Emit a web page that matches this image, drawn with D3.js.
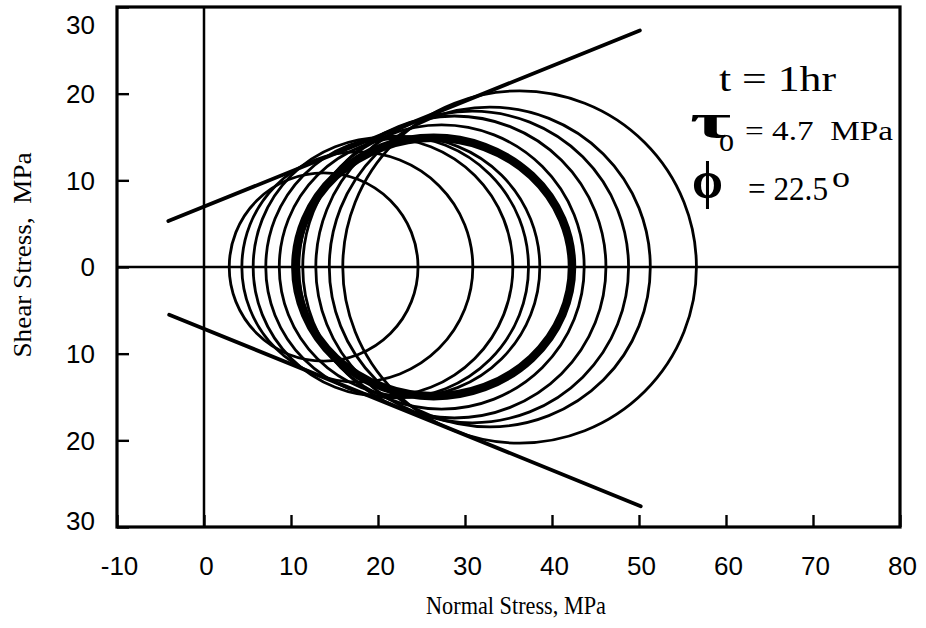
<!DOCTYPE html>
<html>
<head>
<meta charset="utf-8">
<script src="https://cdn.jsdelivr.net/npm/d3@7"></script>
<style>
  html, body { margin: 0; padding: 0; background: #fff; }
  svg { display: block; }
</style>
</head>
<body>
<svg id="chart" width="926" height="628"></svg>
<script>
// ---- data ----
// Mohr circles: minor (sigma3) and major (sigma1) principal stresses, MPa
const sigma3 = [2.9, 4.35, 5.65, 7.1, 8.65, 10.9, 11.35, 12.85, 14.4, 15.95];
const sigma1 = [24.6, 30.9, 35.5, 37.3, 38.6, 43.7, 46.2, 48.8, 51.3, 56.6];
// highlighted (heavy) curve: sigma3, sigma1, peak shear
const heavySigma3 = [10.5];
const heavySigma1 = [42.3];
const heavyTau = [14.9];
// failure envelope end points [normal, shear]
const envelopeUpper = [[-4.1, 5.3], [50.1, 27.3]];
const envelopeLower = [[-4.0, -5.5], [50.2, -27.6]];
// axis ticks
const xTicks = [-10, 0, 10, 20, 30, 40, 50, 60, 70, 80];
const yTicks = [30, 20, 10, 0, -10, -20, -30];
// annotation texts
const labelTime = "t = 1hr";
const labelTau = "τ";
const labelTauSub = "o";
const labelTauVal = "= 4.7  MPa";
const labelPhi = "ϕ";
const labelPhiVal = "= 22.5";
const labelPhiSup = "o";
const xTitle = "Normal Stress, MPa";
const yTitle = "Shear Stress,  MPa";

// ---- scales ----
const svg = d3.select("#chart");
const x = d3.scaleLinear().domain([-10, 80]).range([117, 900]);
const y = d3.scaleLinear().domain([-30, 30]).range([527, 7]);

const sansFont = "'Liberation Sans', Arial, Helvetica, sans-serif";
const serifFont = "'Liberation Serif', 'Times New Roman', Times, serif";

// ---- axes ----
const xAxis = d3.axisBottom(x).tickValues(xTicks).tickSize(-12).tickPadding(30)
  .tickFormat(d => String(d));
const gx = svg.append("g").attr("transform", `translate(0,${y(-30)})`).call(xAxis);
gx.select(".domain").remove();
gx.selectAll(".tick line").attr("stroke", "#000").attr("stroke-width", 2.4);
gx.selectAll(".tick text").attr("fill", "#000").attr("font-family", sansFont)
  .attr("font-size", 26).attr("dx", 2);

const yAxis = d3.axisLeft(y).tickValues(yTicks).tickSize(-12).tickPadding(22)
  .tickFormat(d => String(Math.abs(d)));
const gy = svg.append("g").attr("transform", `translate(${x(-10)},0)`).call(yAxis);
gy.select(".domain").remove();
gy.selectAll(".tick line").attr("stroke", "#000").attr("stroke-width", 2.4);
gy.selectAll(".tick text").attr("fill", "#000").attr("font-family", sansFont)
  .attr("font-size", 26)
  .attr("dy", d => d === 30 ? "1.02em" : (d === -30 ? "0.1em" : "0.34em"));

// ---- frame and zero lines ----
svg.append("rect")
  .attr("x", x(-10)).attr("y", y(30))
  .attr("width", x(80) - x(-10)).attr("height", y(-30) - y(30))
  .attr("fill", "none").attr("stroke", "#000").attr("stroke-width", 3.2);
svg.append("line")
  .attr("x1", x(0)).attr("x2", x(0)).attr("y1", y(30)).attr("y2", y(-30))
  .attr("stroke", "#000").attr("stroke-width", 2.5);
svg.append("line")
  .attr("x1", x(-10)).attr("x2", x(80)).attr("y1", y(0)).attr("y2", y(0))
  .attr("stroke", "#000").attr("stroke-width", 2.5);

// ---- Mohr circles ----
const circles = sigma3.map((s3, i) => ({ s3, s1: sigma1[i] }));
svg.append("g").selectAll("ellipse").data(circles).join("ellipse")
  .attr("cx", d => x((d.s3 + d.s1) / 2))
  .attr("cy", y(0))
  .attr("rx", d => x(d.s1) - x((d.s3 + d.s1) / 2))
  .attr("ry", d => y(0) - y((d.s1 - d.s3) / 2))
  .attr("fill", "none").attr("stroke", "#000").attr("stroke-width", 2.8);

const heavy = heavySigma3.map((s3, i) => ({ s3, s1: heavySigma1[i], t: heavyTau[i] }));
svg.append("g").selectAll("ellipse").data(heavy).join("ellipse")
  .attr("cx", d => x((d.s3 + d.s1) / 2))
  .attr("cy", y(0))
  .attr("rx", d => x(d.s1) - x((d.s3 + d.s1) / 2))
  .attr("ry", d => y(0) - y(d.t))
  .attr("fill", "none").attr("stroke", "#000").attr("stroke-width", 8.5);

// ---- failure envelope ----
const line = d3.line().x(d => x(d[0])).y(d => y(d[1]));
[envelopeUpper, envelopeLower].forEach(pts => {
  svg.append("path").attr("d", line(pts))
    .attr("fill", "none").attr("stroke", "#000").attr("stroke-width", 3.8)
    .attr("stroke-linecap", "round");
});

// ---- annotations ----
function txt(str, px, py, size, len, weight) {
  const t = svg.append("text").attr("x", px).attr("y", py)
    .attr("font-family", serifFont).attr("font-size", size)
    .attr("font-weight", weight || "normal")
    .attr("fill", "#000").attr("xml:space", "preserve")
    .style("white-space", "pre").text(str);
  if (len) t.attr("textLength", len).attr("lengthAdjust", "spacingAndGlyphs");
  return t;
}
txt(labelTime, 719, 91, 35, 117);
txt(labelTau, 690, 138, 50, 41, "bold");
txt(labelTauSub, 719, 151, 34, 15);
txt(labelTauVal, 745, 140, 27, 148);
txt(labelPhi, 692, 198, 52, 31, "bold");
txt(labelPhiVal, 748, 200, 33, 80);
txt(labelPhiSup, 832, 187, 30, 18);

// ---- axis titles ----
svg.append("text").attr("x", 516).attr("y", 614)
  .attr("text-anchor", "middle").attr("font-family", serifFont)
  .attr("font-size", 26).attr("fill", "#000")
  .attr("textLength", 180).attr("lengthAdjust", "spacingAndGlyphs").text(xTitle);
svg.append("text")
  .attr("transform", "translate(31,255) rotate(-90)")
  .attr("text-anchor", "middle").attr("font-family", serifFont)
  .attr("font-size", 26).attr("fill", "#000")
  .attr("xml:space", "preserve")
  .attr("textLength", 205).attr("lengthAdjust", "spacingAndGlyphs")
  .style("white-space", "pre").text(yTitle);
</script>
</body>
</html>
